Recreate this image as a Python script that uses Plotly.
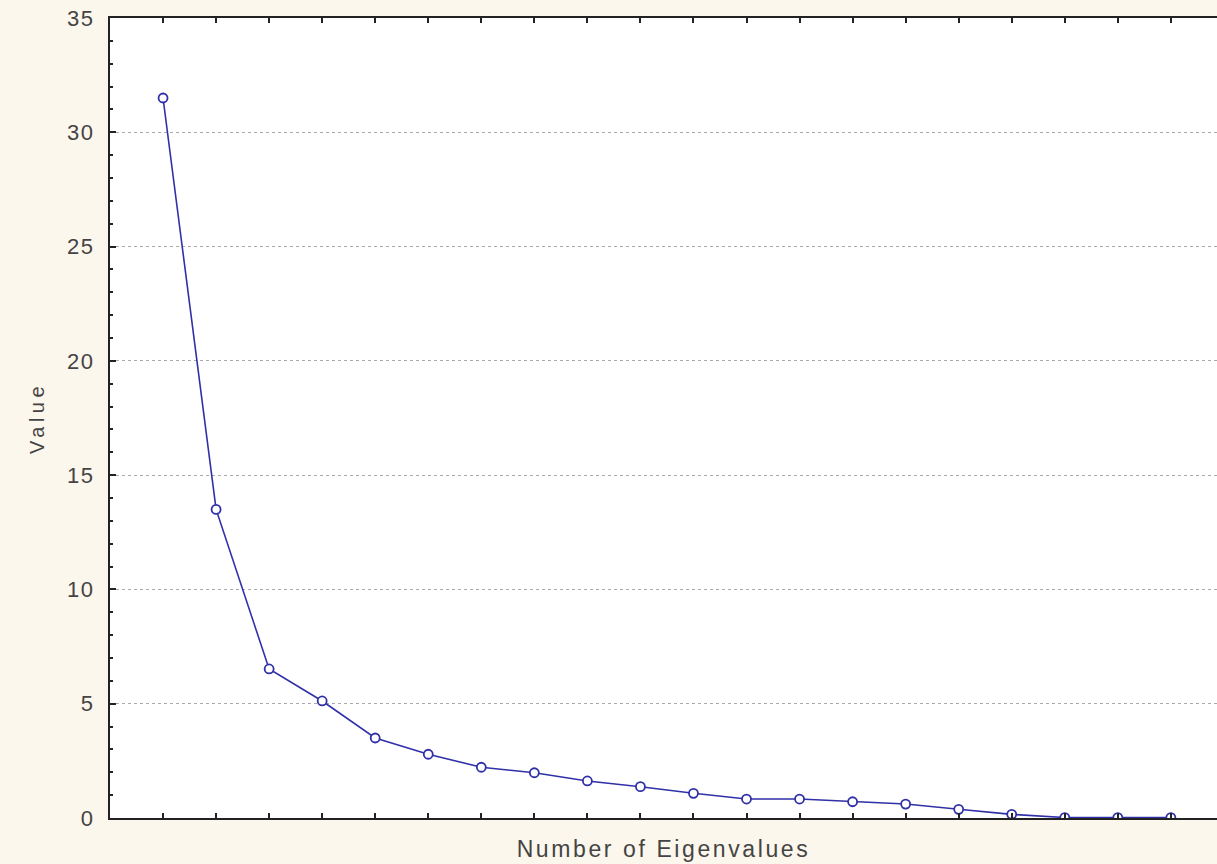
import plotly.graph_objects as go

eigen_number = list(range(1, 21))
eigen_values = [31.5, 13.5, 6.52, 5.12, 3.5, 2.79, 2.22, 1.98, 1.62, 1.37,
                1.08, 0.83, 0.83, 0.71, 0.61, 0.38, 0.16, 0.02, 0.02, 0.02]
y_ticks = [0, 5, 10, 15, 20, 25, 30, 35]

line_color = "#3030A8"

fig = go.Figure()
fig.add_trace(go.Scatter(
    x=eigen_number, y=eigen_values, mode="lines+markers",
    line=dict(color=line_color, width=1.6),
    marker=dict(symbol="circle", size=9, color="white",
                line=dict(color=line_color, width=1.8)),
    showlegend=False,
))

fig.update_layout(
    width=1217, height=864,
    margin=dict(l=110, r=0, t=18, b=46),
    paper_bgcolor="#FCF7EC",
    plot_bgcolor="white",
    font=dict(family="Liberation Sans, Arial, sans-serif", color="#444444"),
    xaxis=dict(
        range=[0, 20.87], tickvals=eigen_number, showticklabels=False,
        ticks="inside", ticklen=5, tickwidth=2, tickcolor="#222",
        showline=True, linecolor="#222", linewidth=2, mirror="ticks",
        showgrid=False, zeroline=False,
        title=dict(text="Number of Eigenvalues", font=dict(size=23, color="#444"), standoff=22),
    ),
    yaxis=dict(
        range=[0, 35], tickvals=y_ticks, ticktext=[str(v) for v in y_ticks],
        ticks="inside", ticklen=6, tickwidth=2, tickcolor="#222",
        tickfont=dict(size=22, color="#444"), ticklabelstandoff=9,
        showline=True, linecolor="#222", linewidth=2,
        showgrid=True, gridcolor="#AAAAAA", griddash="dot", gridwidth=1,
        zeroline=False,
        minor=dict(dtick=1, ticks="inside", ticklen=3, tickcolor="#222", showgrid=False),
        title=dict(text="Value", font=dict(size=20, color="#444"), standoff=20),
    ),
)

post = """
var s = function(sel, v){ document.querySelectorAll(sel).forEach(function(e){ e.style.letterSpacing = v; }); };
s('.xtitle', '2.6px');
s('.ytitle', '4.5px');
s('.ytick text', '1.5px');
"""

fig.write_html("out.html", post_script=post)
